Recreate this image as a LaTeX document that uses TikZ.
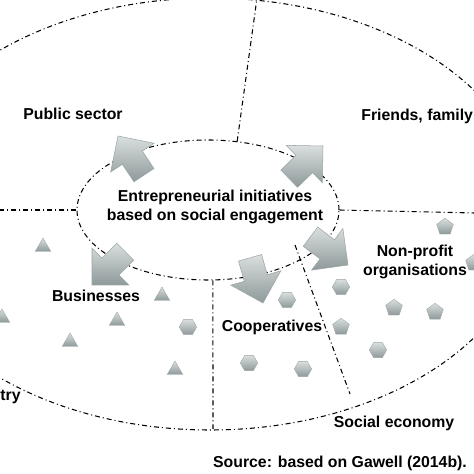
\documentclass[tikz,border=0pt]{standalone}
\usepackage{fontspec}
\setmainfont{Liberation Sans}
\usetikzlibrary{shapes.geometric}
\definecolor{shapetop}{RGB}{218,223,223}
\definecolor{shapebottom}{RGB}{142,153,153}
\definecolor{shapeedge}{RGB}{155,165,165}
\tikzstyle{divider}=[draw=black,line width=0.6pt,dash pattern=on 1mm off 0.6mm on 0.2mm off 0.6mm]
\tikzstyle{sector}=[font=\fontsize{9}{10.8}\selectfont\bfseries,align=center,inner sep=0pt]
\tikzstyle{grayshape}=[inner sep=0pt,top color=shapetop,bottom color=shapebottom,draw=shapeedge,line width=0.2pt]
\tikzstyle{tri}=[grayshape,regular polygon,regular polygon sides=3,minimum size=0.36cm]
\tikzstyle{hexa}=[grayshape,regular polygon,regular polygon sides=6,minimum size=0.35cm]
\tikzstyle{penta}=[grayshape,regular polygon,regular polygon sides=5,minimum size=0.35cm]
\tikzstyle{bigarrow}=[top color=shapetop,bottom color=shapebottom,draw=shapeedge,line width=0.3pt]
\newcommand{\blockarrow}[2]{\path[bigarrow,shift={#1},rotate=#2] (0,0) -- (-0.52,0.52) -- (-0.52,0.24) -- (-0.94,0.24) -- (-0.94,-0.24) -- (-0.52,-0.24) -- (-0.52,-0.52) -- cycle;}

\begin{document}
\begin{tikzpicture}
    \useasboundingbox (0,0) rectangle (9.48,9.48);

    % Outer ellipse and inner ellipse
    \draw[divider] (4.20,5.20) ellipse (6.44 and 4.32);
    \node[ellipse,divider,minimum width=5.24cm,minimum height=2.8cm,inner sep=0pt] (core) at (4.16,5.28) {};

    % Borders between the sectors
    \coordinate (leftend) at (0,5.28);
    \coordinate (rightend) at (9.48,5.22);
    \coordinate (topend) at (5.14,9.52);
    \coordinate (bottomend) at (4.26,0.90);
    \coordinate (npstart) at (5.90,4.58);
    \coordinate (npend) at (7.00,1.60);
    \draw[divider] (core.west) -- (leftend);
    \draw[divider] (core.east) -- (rightend);
    \draw[divider] (core.67) -- (topend);
    \draw[divider] (core.-86) -- (bottomend);
    \draw[divider] (npstart) -- (npend);

    % Arrows out of the centre
    \blockarrow{(2.36,6.76)}{123.5}
    \blockarrow{(6.46,6.56)}{44}
    \blockarrow{(1.84,3.78)}{225}
    \blockarrow{(5.26,3.42)}{-74}
    \blockarrow{(6.96,4.18)}{-37}

    % Businesses
    \node[tri] (b1) at (0.86,4.54) {};
    \node[tri] (b2) at (0.04,3.12) {};
    \node[tri] (b3) at (3.24,3.56) {};
    \node[tri] (b4) at (2.34,3.06) {};
    \node[tri] (b5) at (1.40,2.64) {};
    \node[tri] (b6) at (3.50,2.08) {};
    \node[hexa] (b7) at (3.76,2.94) {};

    % Cooperatives
    \node[hexa] (c1) at (5.74,3.48) {};
    \node[hexa] (c2) at (4.98,2.22) {};
    \node[hexa] (c3) at (6.06,2.10) {};

    % Non-profit organisations
    \node[hexa] (n1) at (6.82,3.74) {};
    \node[hexa] (n2) at (7.56,2.48) {};
    \node[penta] (n3) at (6.82,2.94) {};
    \node[penta] (n4) at (7.88,3.32) {};
    \node[penta] (n5) at (8.70,3.24) {};
    \node[penta] (n6) at (8.90,4.94) {};
    \node[penta] (n7) at (9.48,4.22) {};

    \node[sector] (coretext) at (4.30,5.34) {Entrepreneurial initiatives\\based on social engagement};
    \node[sector] (public) at (1.46,7.20) {Public sector};
    \node[sector,anchor=west] (friends) at (7.22,7.16) {Friends, family};
    \node[sector] (business) at (1.92,3.56) {Businesses};
    \node[sector] (coop) at (5.44,2.94) {Cooperatives};
    \node[sector] (nonprofit) at (8.30,4.24) {Non-profit\\organisations};
    \node[sector] (socialeco) at (7.88,1.02) {Social economy};
    \node[sector,anchor=east] (industry) at (0.42,1.54) {try};
    \node[sector] (source) at (6.80,0.22) {Source: based on Gawell (2014b).};
\end{tikzpicture}
\end{document}
